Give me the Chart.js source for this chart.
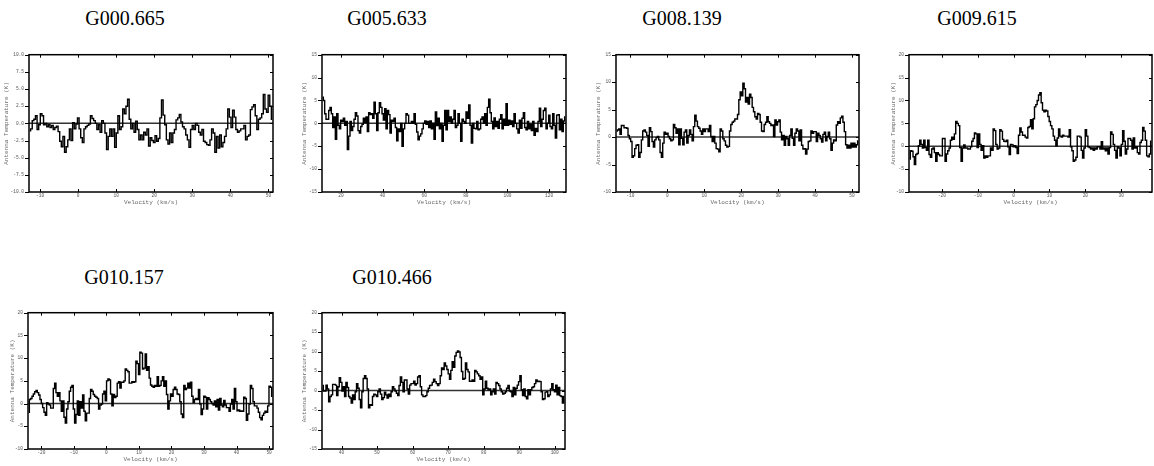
<!DOCTYPE html>
<html>
<head>
<meta charset="utf-8">
<script src="https://cdn.jsdelivr.net/npm/chart.js@4.4.1/dist/chart.umd.min.js"></script>
<style>
  html, body { margin: 0; padding: 0; background: #fff; width: 1154px; height: 466px; overflow: hidden; }
  body { position: relative; }
  canvas { position: absolute; }
  .ttl {
    position: absolute; white-space: nowrap; color: #000;
    font-family: "Liberation Serif", "Times New Roman", serif;
    font-size: 20px; line-height: 20px; transform: translateX(-50%);
  }
</style>
</head>
<body>
<script>
// ---- Spectra: antenna temperature (K) per channel ----
const T_G000665 = [
  -1.1,-0.8,0.4,0.6,1.1,-0.9,-0.2,1.4,1.1,-0.2,
  0,-0.5,-0.2,-0.6,-0.3,-0.9,-0.6,-0.4,-1.2,-2.6,
  -3.4,-1.9,-4.2,-3.4,-2.4,-0.8,-2.5,0.1,-0.8,-0.1,
  0.8,-0.8,-2.1,-2.8,-0.8,-0.5,-0.3,-0.1,1.1,0.7,
  0.4,0,-0.9,-0.2,-1.3,0.4,0,-1.4,-3.8,-1.9,
  -0.8,-1.9,-0.8,-3.5,-1.4,1.1,-0.9,-0.5,2.1,1.4,
  2.5,3.5,0.6,-0.8,0,-1.3,0.3,-0.9,-2.4,-1.7,
  -2.4,-1.3,-1.7,-0.8,-3.3,-2.1,-2.5,-2.8,-1.8,-2.6,
  -2.2,0.8,3.4,1.2,-0.2,-2.4,-3.0,-1.4,-2.8,-1.4,
  -0.9,0.5,0.8,1.3,0.2,-0.5,-0.8,-1.7,-2.4,-3.5,
  -0.9,-0.3,-0.9,0,-0.3,-1.3,-1.7,-0.9,-2.6,-2.8,
  -3.1,-3.2,-2.4,-0.8,-1.4,-4.2,-1.9,-3.6,-1.7,-3.4,
  -2.8,-1.9,-0.8,2.1,0.9,-0.6,1.9,0.9,-0.9,-1.3,
  -1.1,-0.8,-0.8,-0.3,-2.4,-1.9,-1.7,2.0,2.4,2.7,
  1.1,-0.9,0.6,0.8,1.4,4.2,2.1,1.6,4.1,2.5,0.6
];
const T_G005633 = [
  5.7,5.0,2.1,0.9,0.9,2.8,3.5,2.1,-0.9,1.4,
  -3.5,2.1,-0.4,-1.2,0.7,0.4,1.1,-0.4,0.4,-5.7,
  -2.8,0.4,-1.6,-0.7,0.9,2.3,1.6,-1.6,-2.1,-0.7,
  -0.2,1.1,0.2,1.4,-1.8,2.3,1.9,2.1,1.1,4.6,
  2.1,-1.6,2.3,4.5,3.5,2.1,0.7,3.2,-1.2,2.8,
  1.9,-2.1,0.7,0.4,1.1,-0.9,-3.8,-1.2,-1.8,0,
  -5.0,-1.2,0,2.1,1.8,0,0,0.4,0,2.1,
  -0.2,-1.9,-3.6,-2.8,-2.3,-1.2,0,0.5,-0.2,0.4,
  -0.9,0.5,-1.2,0,-3.5,2.5,-0.5,1.1,-1.2,0,
  -3.9,-0.4,2.8,-1.4,2.8,0.4,1.4,0,0.9,2.8,
  -0.9,-0.4,2.1,0,-3.9,0.9,0.4,0,2.5,1.1,
  4.0,-0.4,-4.3,0,-1.1,-1.2,0.4,-1.4,-1.2,0.9,
  1.4,0,2.1,-0.4,3.5,5.3,2.3,0.4,-1.2,1.2,
  -0.7,0.4,-1.1,0.9,1.9,-1.2,0.9,-0.4,4.3,-0.4,
  0.7,-0.2,0.5,-0.7,2.1,0,-1.2,-2.1,0.7,-1.1,
  1.1,2.3,-0.9,-1.4,0.4,-1.2,-0.2,-1.6,0.4,-2.6,
  -1.1,-1.8,0.4,3.3,-0.7,0.9,2.8,3.3,-1.2,0,
  1.8,-0.7,-1.2,2.1,-0.4,-3.2,1.8,1.9,-1.4,0.9,
  -1.8,0.5,1.4
];
const T_G008139 = [
  1.1,1.3,1.5,0.5,2.1,2.1,1.7,1.7,1.6,0.3,
  -0.3,-0.8,-3.7,-3.4,-2.1,-1.5,-1.4,-3.7,-2.8,-0.5,
  1.1,1.3,0.9,0.3,-1.7,1.7,1.0,-0.8,-1.8,-0.5,
  -0.1,0.1,-0.5,-2.8,-3.7,-1.1,0.9,0.5,0.7,0.1,
  -0.3,-0.7,-0.5,2.3,1.7,0.7,1.5,-1.4,1.5,-0.2,
  -1.4,0.9,1.3,-1.1,0.3,1.3,0.5,-0.7,1.9,4.0,
  2.9,1.9,1.6,1.1,0.5,1.5,1.0,1.5,1.5,1.0,
  2.1,0.1,-0.8,0.1,-1.1,-2.1,-2.2,-2.7,1.5,1.1,
  -0.3,-0.7,-1.5,-1.8,-1.7,1.1,2.3,2.7,2.9,3.3,
  3.3,4.1,6.8,8.2,7.5,9.8,8.8,6.4,7.2,6.0,
  7.8,7.2,5.4,4.6,3.7,3.3,4.3,4.1,2.7,1.1,
  1.0,2.3,2.7,3.7,2.8,2.5,2.1,2.2,0.1,3.1,
  2.2,2.8,3.1,0.9,-0.5,0.3,-1.5,0.1,-0.3,-1.5,
  0.3,1.5,-0.2,-1.5,0.7,1.5,1.1,-0.7,1.3,-1.5,
  -2.2,-2.1,-3.1,-2.2,-0.8,-0.7,1.1,0.7,1.0,1.0,
  -0.8,0.7,0.3,-0.3,-0.9,0.5,0.9,-0.7,0.1,0.9,
  -0.3,-2.4,-1.1,-0.5,-0.7,2.2,2.8,2.5,3.5,3.8,
  2.7,1.0,-1.4,-2.0,-1.5,-2.0,-1.1,-1.8,-1.1,-1.8,
  -1.4,-0.7
];
const T_G009615 = [
  -2.8,-1.0,-1.1,-2.3,-4.0,-1.8,-1.6,0.1,1.3,0.4,
  -0.4,1.3,-0.3,-0.9,1.3,-1.8,-2.4,-0.6,-0.4,-1.4,
  -3.3,-1.4,-1.8,-2.1,-2.1,1.7,1.7,-3.3,-1.7,-1.0,
  -0.4,1.3,2.0,1.5,2.7,5.4,5.0,4.5,-0.3,-3.3,
  -0.4,0.3,-0.4,-0.4,-0.6,-0.6,-0.1,1.1,1.7,2.9,
  2.7,-0.3,2.7,0.4,-0.9,0.1,-2.6,-2.1,-2.4,-2.1,
  -2.1,-0.4,-0.9,3.8,3.4,0.4,-0.6,-0.4,3.6,3.3,
  1.5,1.1,1.0,1.3,-0.1,-1.8,0.4,0.3,-0.1,0.1,
  -0.3,-1.6,2.4,4.0,3.1,2.4,2.4,2.0,1.8,4.1,
  4.3,5.8,3.8,6.0,8.6,9.1,10.0,11.2,11.7,9.5,
  7.9,7.5,7.9,7.7,6.5,5.4,4.5,3.8,2.2,1.3,
  0.1,1.8,3.8,2.2,2.0,2.4,2.2,2.2,2.2,2.0,
  3.6,-0.1,-1.0,-3.3,-3.0,-2.4,2.2,2.2,2.0,-0.9,
  -2.6,-0.4,3.6,2.2,-0.1,-0.3,-0.6,-0.4,-0.9,-0.4,
  -0.6,-0.1,-0.1,-0.6,1.0,-0.6,-0.4,-1.0,-0.4,-1.7,
  -0.3,3.1,2.6,0.4,-0.9,-2.6,-0.1,-0.4,-2.1,0.4,
  3.4,1.1,-1.7,-0.6,1.7,1.7,1.3,-0.6,1.8,-0.4,
  -0.1,-1.4,-1.7,0.8,1.3,4.1,3.3,1.3,-2.1,-2.3,
  -1.7,1.1
];
const T_G010157 = [
  -1.9,0.9,1.1,1.6,2.1,2.6,2.9,2.4,1.9,0.9,
  0,-0.9,-1.9,-2.6,0.2,-0.1,-0.3,-1.0,-1.0,3.3,
  4.5,2.4,1.6,2.4,0.6,-1.7,0.6,-3.0,-4.3,-1.2,
  0.4,2.7,3.6,4.0,-1.2,-4.3,-2.4,0.6,-2.6,0.4,
  -1.0,1.9,-1.7,-3.8,-2.1,-2.1,1.1,3.1,2.7,2.0,
  1.6,1.4,1.1,-1.2,-0.3,-0.1,2.1,2.7,0.6,5.0,
  5.4,5.2,2.1,-0.5,2.0,1.3,1.6,4.5,4.8,3.4,
  4.7,4.7,5.0,7.6,7.3,7.0,4.5,4.5,4.8,4.7,
  4.8,9.3,8.8,6.4,11.3,11.1,7.6,7.8,10.9,7.3,
  8.1,5.6,4.1,3.8,3.6,4.0,3.8,5.9,3.8,4.0,
  5.0,5.9,3.8,5.0,2.0,-1.2,0.6,2.1,1.6,3.1,
  3.6,3.1,2.1,2.0,0.4,-2.3,-3.1,4.0,3.1,3.4,
  4.5,3.4,4.7,1.6,0.2,0.9,1.1,0.9,3.1,-0.1,
  -2.4,-1.2,1.6,1.4,-1.2,1.3,0.9,0.4,0,-0.3,
  0.6,-0.7,0.9,-1.4,1.1,-0.3,-0.7,0.7,-0.3,-0.9,
  -0.9,-1.7,-0.1,0.9,-1.2,3.3,0.4,-1.6,-1.4,-1.7,
  -1.6,-1.7,1.4,1.1,-3.7,-2.3,-0.1,4.0,3.3,0.4,
  -0.5,-0.5,-1.0,-1.9,-3.1,-3.6,-2.6,-2.1,-1.7,-1.9,
  -0.5,3.8,3.6,1.6
];
const T_G010466 = [
  1.3,-0.1,-0.1,1.4,0.4,-2.9,-1.5,-1.1,1.6,1.6,
  1.4,-1.3,1.0,3.3,2.1,-0.1,1.0,-1.5,2.1,0.8,
  -1.5,-1.9,-3.2,-1.1,-2.3,-0.3,1.8,0.6,-2.3,-4.4,
  -0.3,3.1,3.8,3.1,0.4,-4.4,-3.6,-3.8,-1.5,-0.9,
  -1.1,-1.5,-0.3,0.4,-0.9,-2.3,-1.8,-0.4,-1.1,-1.9,
  -0.9,-1.5,-0.3,1.0,0.4,-0.1,-0.7,-1.3,1.3,3.5,
  2.1,-0.3,2.7,2.7,0.4,-0.9,1.4,1.8,1.8,2.4,
  1.4,1.8,3.5,3.8,1.0,-1.1,-1.5,-1.5,-1.3,-0.3,
  0.6,1.3,1.4,2.1,2.9,2.3,1.8,1.3,1.8,3.8,
  5.8,5.4,7.1,6.3,5.4,4.3,2.9,5.2,7.4,6.0,
  8.9,9.8,10.2,9.9,8.5,4.9,2.9,3.1,7.1,5.4,
  4.8,2.4,2.4,2.7,2.4,5.2,4.8,4.3,3.8,2.9,
  3.5,-1.1,0.4,2.4,0.6,0.2,0.4,-1.1,-0.3,0.4,
  -0.9,2.1,1.8,1.3,0.4,-0.3,-0.9,-0.7,-0.3,0.6,
  1.3,-0.1,-0.3,-1.5,0.8,-1.1,0.6,1.4,2.3,3.8,
  0.2,-1.3,0.4,-1.5,-2.1,0.2,-1.1,0.2,0.8,1.0,
  1.8,2.7,2.3,2.4,2.3,-0.3,-2.3,-2.1,-0.4,-0.3,
  -1.5,-1.1,0.4,1.8,0.2,-0.3,1.4,-1.1,0.8,-1.3,
  -1.5,-3.2,-1.5
];

// ---- Channel grid: first channel edge and channel width (km/s) ----
const VSTART = [-12.9, 10.9, -13.9, -29.2, -24.1, 34.5];
const VWIDTH = [0.4245, 0.6404, 0.3615, 0.3725, 0.4092, 0.3738];

// ---- Source names and axis ranges / ticks ----
const NAMES   = ['G000.665', 'G005.633', 'G008.139', 'G009.615', 'G010.157', 'G010.466'];
const SPECTRA = [T_G000665, T_G005633, T_G008139, T_G009615, T_G010157, T_G010466];
const X_RANGE = [[-12.9, 51.2], [10.9, 128.1], [-13.9, 51.9], [-29.2, 38.6], [-24.1, 51.2], [34.5, 102.9]];
const X_STEP  = [10, 20, 10, 10, 10, 10];
const Y_RANGE = [[-10, 10], [-15, 15], [-10, 15], [-10, 20], [-10, 20], [-15, 20]];
const Y_STEP  = [2.5, 5, 5, 5, 5, 5];
const Y_DECIMALS = [1, 0, 0, 0, 0, 0];

// ---- Page layout (pixels): plot frame boxes, canvas left edges, title centres ----
const FRAMES = [
  { l: 29,  r: 273,  t: 51,  b: 192 },
  { l: 322, r: 566,  t: 51,  b: 192 },
  { l: 616, r: 859,  t: 51,  b: 192 },
  { l: 909, r: 1152, t: 51,  b: 192 },
  { l: 28,  r: 273,  t: 309, b: 449 },
  { l: 322, r: 565,  t: 309, b: 449 }
];
const CANVAS_LEFT = [3, 301, 595, 890, 9, 301];
const TITLE_POS = [[125, 8], [387, 8], [682, 8], [977, 8], [124, 267], [392, 267]];

const PAD_TOP = 4, PAD_RIGHT = 2, X_AXIS_H = 14;
const monoFont = '"Liberation Mono", "Courier New", monospace';
const tickFont = { family: monoFont, size: 4.5 };
const axisTitleFont = { family: monoFont, size: 6 };

// Box around the plot plus short tick marks on every side.
const framePlugin = {
  id: 'frame',
  afterDraw(chart) {
    const { ctx, chartArea: a, scales: { x, y } } = chart;
    ctx.save();
    ctx.strokeStyle = '#000';
    ctx.lineWidth = 1;
    ctx.beginPath();
    x.ticks.forEach(t => {
      const px = Math.round(x.getPixelForValue(t.value)) + 0.5;
      ctx.moveTo(px, a.bottom); ctx.lineTo(px, a.bottom - 3);
      ctx.moveTo(px, a.top);    ctx.lineTo(px, a.top + 3);
    });
    y.ticks.forEach(t => {
      const py = Math.round(y.getPixelForValue(t.value)) + 0.5;
      ctx.moveTo(a.left, py);  ctx.lineTo(a.left - 4, py);
      ctx.moveTo(a.right, py); ctx.lineTo(a.right - 3, py);
    });
    ctx.stroke();
    ctx.lineWidth = 1.5;
    ctx.strokeRect(a.left, a.top, a.right - a.left, a.bottom - a.top);
    ctx.restore();
  }
};

function makePanel(i) {
  const f = FRAMES[i];
  const left = CANVAS_LEFT[i];
  const canvas = document.createElement('canvas');
  canvas.width = f.r - left + PAD_RIGHT;
  canvas.height = (f.b - f.t) + PAD_TOP + X_AXIS_H;
  canvas.style.left = left + 'px';
  canvas.style.top = (f.t - PAD_TOP) + 'px';
  document.body.appendChild(canvas);

  const title = document.createElement('div');
  title.className = 'ttl';
  title.textContent = NAMES[i];
  title.style.left = TITLE_POS[i][0] + 'px';
  title.style.top = TITLE_POS[i][1] + 'px';
  document.body.appendChild(title);

  const v0 = VSTART[i], dv = VWIDTH[i];
  const points = SPECTRA[i].map((t, k) => ({ x: v0 + (k + 0.5) * dv, y: t }));
  const [xmin, xmax] = X_RANGE[i];
  const [ymin, ymax] = Y_RANGE[i];
  const yAxisW = f.l - left;

  new Chart(canvas, {
    type: 'line',
    data: {
      datasets: [
        {
          data: points, stepped: 'middle', borderColor: '#000', borderWidth: 1.4,
          pointRadius: 0, fill: false, order: 0
        },
        {
          data: [{ x: xmin, y: 0 }, { x: xmax, y: 0 }], borderColor: '#333', borderWidth: 1.5,
          pointRadius: 0, fill: false, order: 1
        }
      ]
    },
    options: {
      responsive: false, animation: false, devicePixelRatio: 1,
      events: [],
      layout: { padding: { top: PAD_TOP, right: PAD_RIGHT, left: 0, bottom: 0 } },
      plugins: { legend: { display: false }, tooltip: { enabled: false }, title: { display: false } },
      scales: {
        x: {
          type: 'linear', min: xmin, max: xmax,
          grid: { display: false, drawTicks: false },
          border: { display: false },
          ticks: {
            stepSize: X_STEP[i], includeBounds: false, autoSkip: false, maxRotation: 0,
            font: tickFont, color: '#555', padding: 1,
            callback: v => String(v)
          },
          title: { display: true, text: 'Velocity (km/s)', font: axisTitleFont, color: '#666', padding: 0 },
          afterFit: s => { s.height = X_AXIS_H; }
        },
        y: {
          type: 'linear', min: ymin, max: ymax,
          grid: { display: false, drawTicks: false },
          border: { display: false },
          ticks: {
            stepSize: Y_STEP[i], includeBounds: false, autoSkip: false,
            font: tickFont, color: '#555', padding: 5,
            callback: v => Number(v).toFixed(Y_DECIMALS[i])
          },
          title: { display: true, text: 'Antenna Temperature (K)', font: axisTitleFont, color: '#666', padding: 0 },
          afterFit: s => { s.width = yAxisW; }
        }
      }
    },
    plugins: [framePlugin]
  });
}

for (let i = 0; i < SPECTRA.length; i++) makePanel(i);
</script>
</body>
</html>
